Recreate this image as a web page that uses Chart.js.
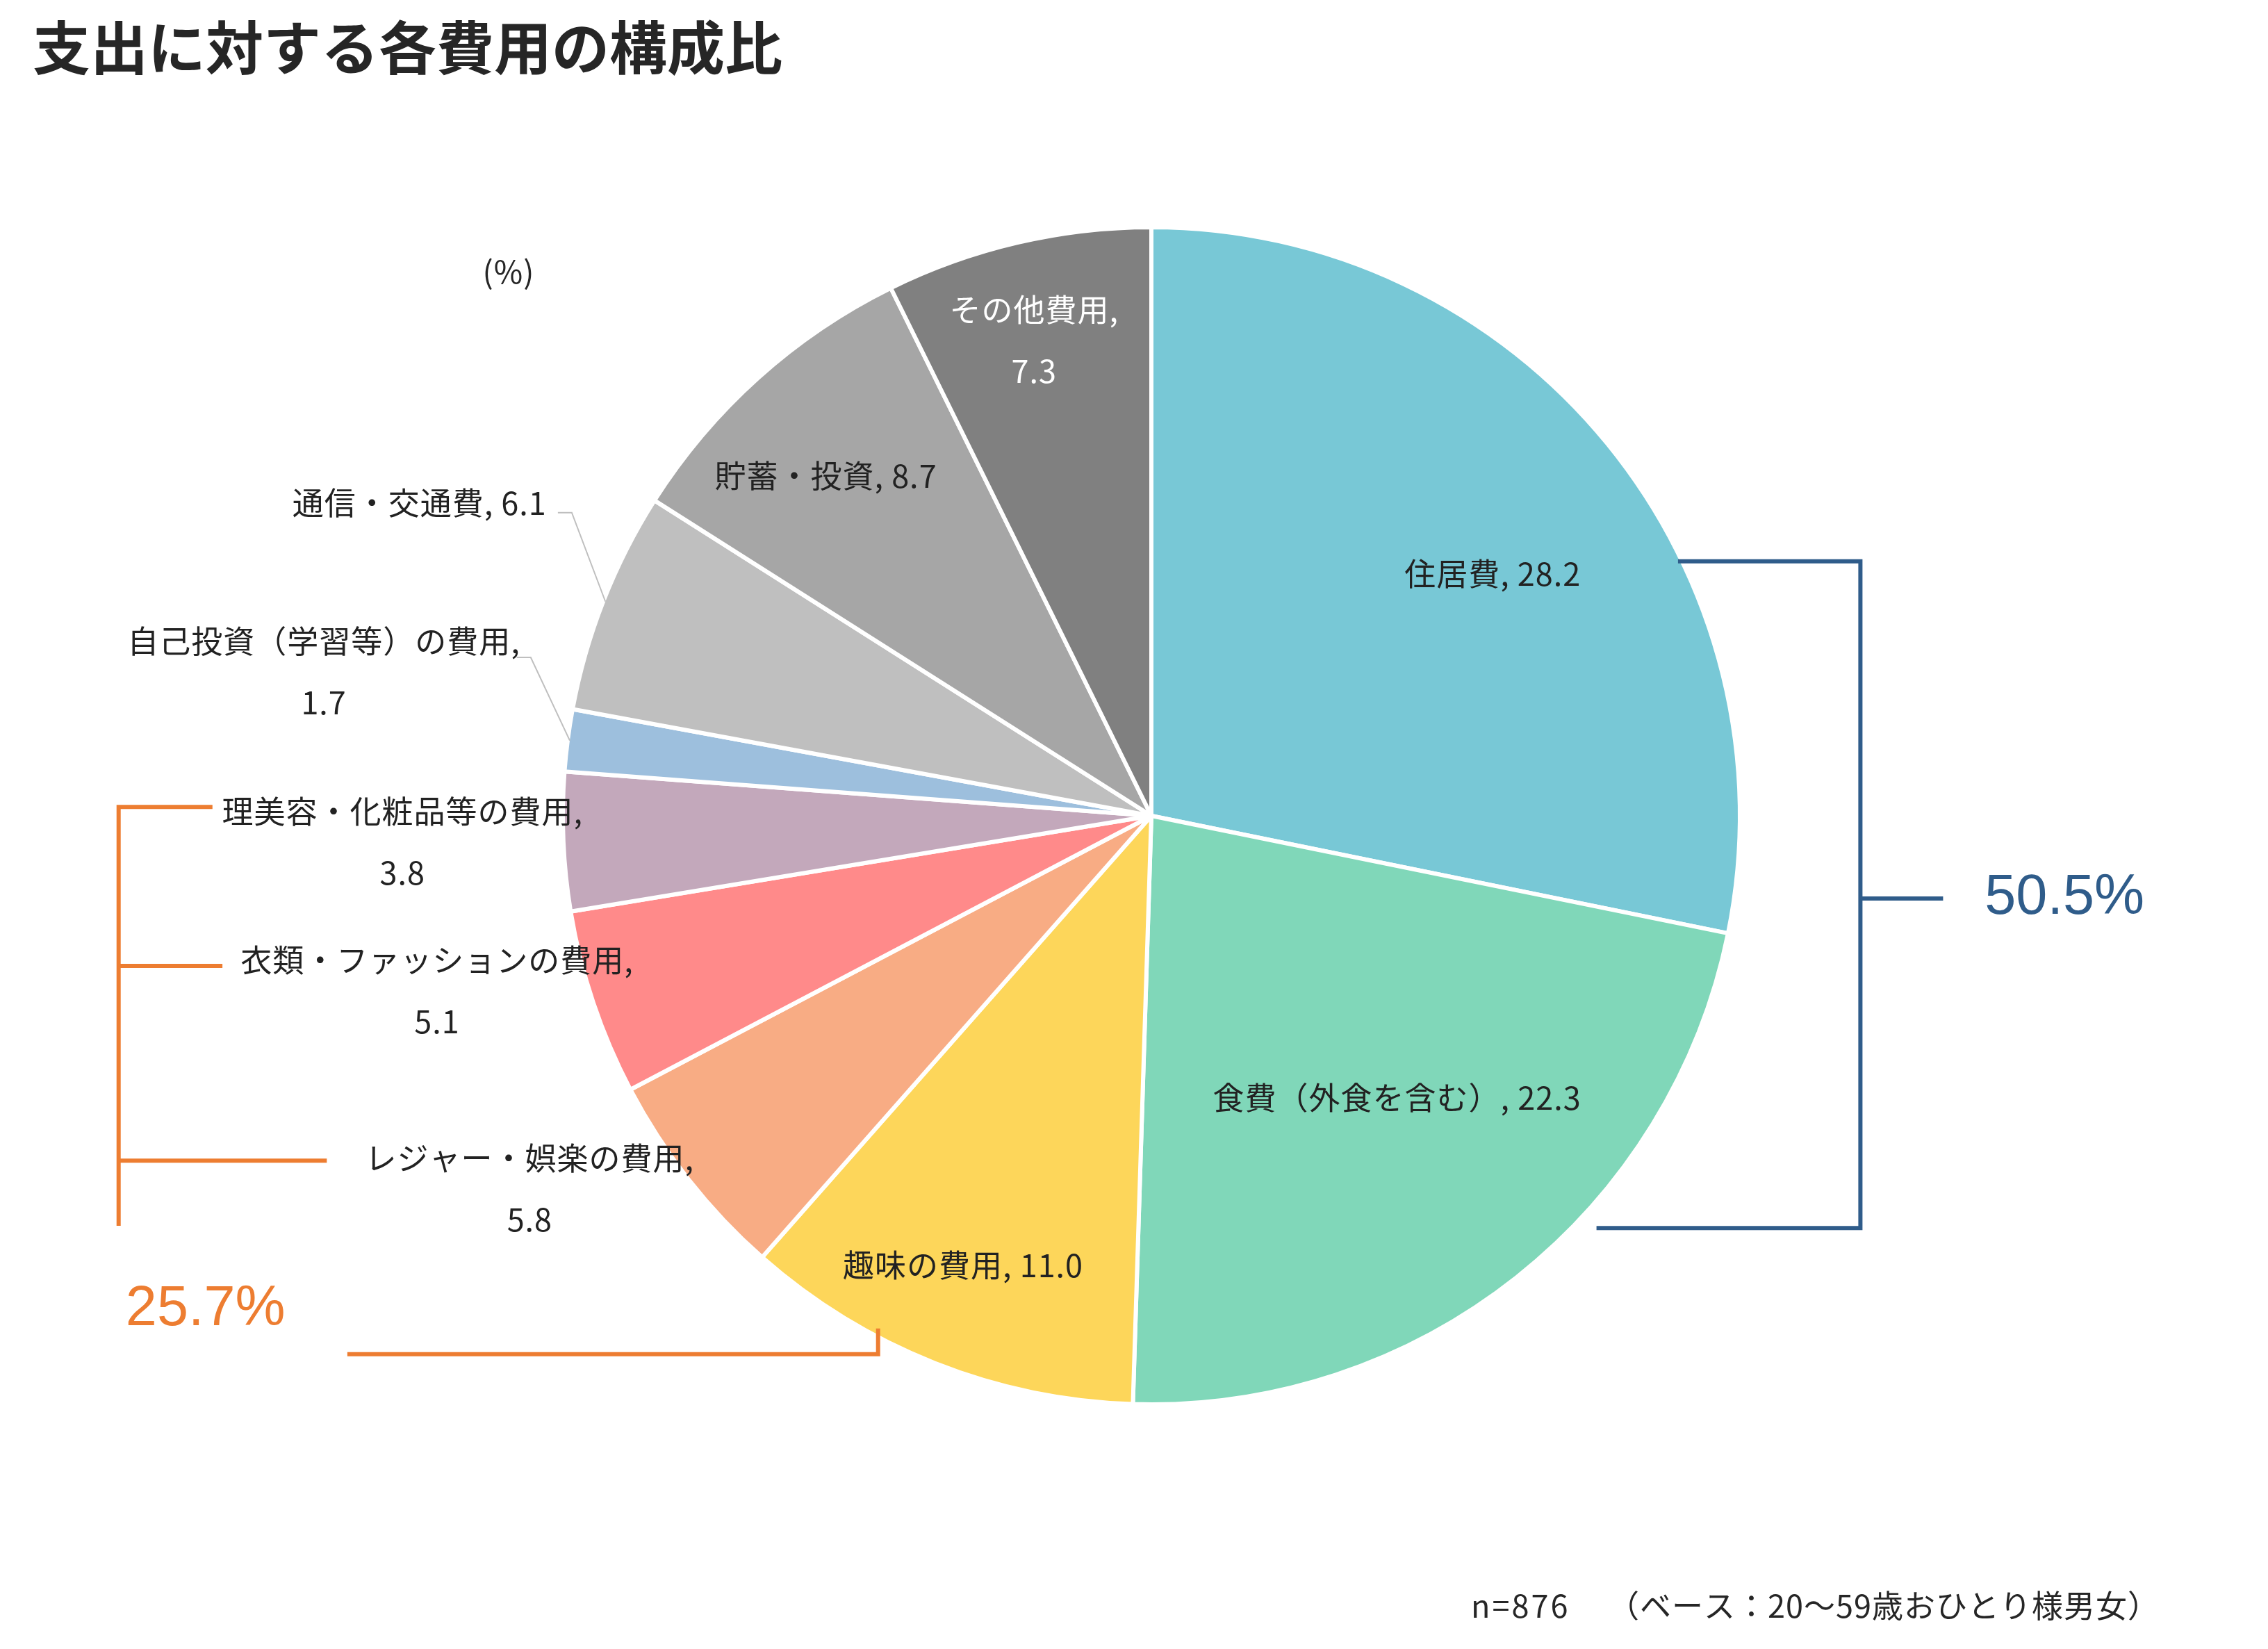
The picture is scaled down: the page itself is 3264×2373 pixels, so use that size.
<!DOCTYPE html>
<html lang="ja">
<head>
<meta charset="utf-8">
<title>支出に対する各費用の構成比</title>
<script src="https://cdn.jsdelivr.net/npm/chart.js@4.4.1/dist/chart.umd.min.js"></script>
<style>
  html, body { margin: 0; padding: 0; background: #fff; }
  #wrap { width: 3264px; height: 2373px; position: relative; }
</style>
</head>
<body>
<div id="wrap"><canvas id="pie"></canvas></div>
<script>
// data, clockwise from 12 o'clock
const categories = ['住居費', '食費（外食を含む）', '趣味の費用', 'レジャー・娯楽の費用', '衣類・ファッションの費用',
  '理美容・化粧品等の費用', '自己投資（学習等）の費用', '通信・交通費', '貯蓄・投資', 'その他費用'];
const shares = [28.2, 22.3, 11.0, 5.8, 5.1, 3.8, 1.7, 6.1, 8.7, 7.3];
const sliceColors = ['#78C8D6', '#80D7B9', '#FDD65A', '#F8AC84', '#FF8A8A',
  '#C3A8BB', '#9DBFDD', '#BFBFBF', '#A6A6A6', '#808080'];
const groupMain = [0, 1];          // 住居費 + 食費
const groupLife = [2, 3, 4, 5];    // 趣味 .. 理美容

const chartTitle = '支出に対する各費用の構成比';
const unitNote = '(%)';
const sampleNote = 'n=876';
const baseNote = '（ベース：20～59歳おひとり様男女）';

// layout (everything below is in units of the pie radius, from the pie centre)
const pieRadius = 844;
const sliceGap = 6;
const labelPos = [
  [0.582, -0.412], [0.419, 0.481], [-0.321, 0.767], [-1.060, 0.636], [-1.218, 0.299],
  [-1.277, 0.045], [-1.411, -0.245], [-1.248, -0.533], [-0.555, -0.579], [-0.200, -0.810]
];
const twoLine = [false, false, false, true, true, true, true, false, false, true];
const leaders = { 7: [-1.012, -0.517], 6: [-1.082, -0.270] };

const labelFont = '45px "Noto Sans CJK JP", "Noto Sans CJK SC", sans-serif';
const blue = '#2F5C8A';
const orange = '#ED7D31';

const sum = idx => idx.reduce((s, i) => s + shares[i], 0);

const overlay = {
  id: 'overlay',
  afterDatasetsDraw(chart) {
    const ctx = chart.ctx;
    const arcs = chart.getDatasetMeta(0).data;
    const cx = arcs[0].x, cy = arcs[0].y;
    const R = arcs[0].outerRadius - sliceGap / 2;
    const X = k => cx + k * R, Y = k => cy + k * R;

    ctx.save();

    // title
    ctx.fillStyle = '#262626';
    ctx.font = 'bold 83px "Noto Sans CJK JP", sans-serif';
    ctx.textAlign = 'left';
    ctx.textBaseline = 'middle';
    ctx.fillText(chartTitle, 47, 68);

    ctx.font = labelFont;

    // footnote
    ctx.letterSpacing = '3px';
    ctx.fillText(sampleNote, 2117, 2311);
    ctx.letterSpacing = '1px';
    ctx.textAlign = 'right';
    ctx.fillText(baseNote, 3108, 2311);

    // unit
    ctx.textAlign = 'center';
    ctx.fillText(unitNote, X(-1.096), Y(-0.928));

    // leader lines for the two small outer labels
    ctx.strokeStyle = '#BFBFBF';
    ctx.lineWidth = 2;
    Object.keys(leaders).forEach(i => {
      const a = arcs[i];
      const mid = (a.startAngle + a.endAngle) / 2;
      const [sx, sy] = leaders[i];
      ctx.beginPath();
      ctx.moveTo(X(sx), Y(sy));
      ctx.lineTo(X(sx) + 20, Y(sy));
      ctx.lineTo(cx + R * Math.cos(mid), cy + R * Math.sin(mid));
      ctx.stroke();
    });

    // data labels
    categories.forEach((name, i) => {
      const [lx, ly] = labelPos[i];
      const val = shares[i].toFixed(1);
      ctx.fillStyle = i === 9 ? '#FFFFFF' : '#222222';
      if (twoLine[i]) {
        ctx.fillText(name + ',', X(lx), Y(ly) - 44);
        ctx.fillText(val, X(lx), Y(ly) + 44);
      } else {
        ctx.fillText(name + ', ' + val, X(lx), Y(ly));
      }
    });
    ctx.letterSpacing = '0px';

    // bracket: 住居費 + 食費
    ctx.lineWidth = 6;
    ctx.lineCap = 'butt';
    ctx.strokeStyle = blue;
    ctx.beginPath();
    ctx.moveTo(X(0.898), Y(-0.434));
    ctx.lineTo(X(1.209), Y(-0.434));
    ctx.lineTo(X(1.209), Y(0.703));
    ctx.lineTo(X(0.759), Y(0.703));
    ctx.moveTo(X(1.209), Y(0.141));
    ctx.lineTo(X(1.350), Y(0.141));
    ctx.stroke();
    ctx.fillStyle = blue;
    ctx.font = '81px "Liberation Sans", Arial, sans-serif';
    ctx.textAlign = 'left';
    ctx.fillText(sum(groupMain).toFixed(1) + '%', X(1.421), Y(0.140));

    // bracket: 趣味 .. 理美容
    ctx.strokeStyle = orange;
    ctx.beginPath();
    ctx.moveTo(X(-1.601), Y(-0.015));
    ctx.lineTo(X(-1.761), Y(-0.015));
    ctx.lineTo(X(-1.761), Y(0.699));
    ctx.moveTo(X(-1.761), Y(0.256));
    ctx.lineTo(X(-1.584), Y(0.256));
    ctx.moveTo(X(-1.761), Y(0.588));
    ctx.lineTo(X(-1.406), Y(0.588));
    ctx.moveTo(X(-1.371), Y(0.918));
    ctx.lineTo(X(-0.466), Y(0.918));
    ctx.lineTo(X(-0.466), Y(0.874));
    ctx.stroke();
    ctx.fillStyle = orange;
    ctx.fillText(sum(groupLife).toFixed(1) + '%', X(-1.749), Y(0.842));

    ctx.restore();
  }
};

new Chart(document.getElementById('pie'), {
  type: 'pie',
  data: {
    labels: categories,
    datasets: [{
      data: shares,
      backgroundColor: sliceColors,
      borderColor: '#FFFFFF',
      borderWidth: sliceGap,
      radius: pieRadius + sliceGap / 2
    }]
  },
  options: {
    responsive: true,
    maintainAspectRatio: false,
    animation: false,
    layout: { padding: { left: 200, right: 150, top: 250, bottom: 275 } },
    plugins: {
      legend: { display: false },
      tooltip: { enabled: false }
    }
  },
  plugins: [overlay]
});
</script>
</body>
</html>
